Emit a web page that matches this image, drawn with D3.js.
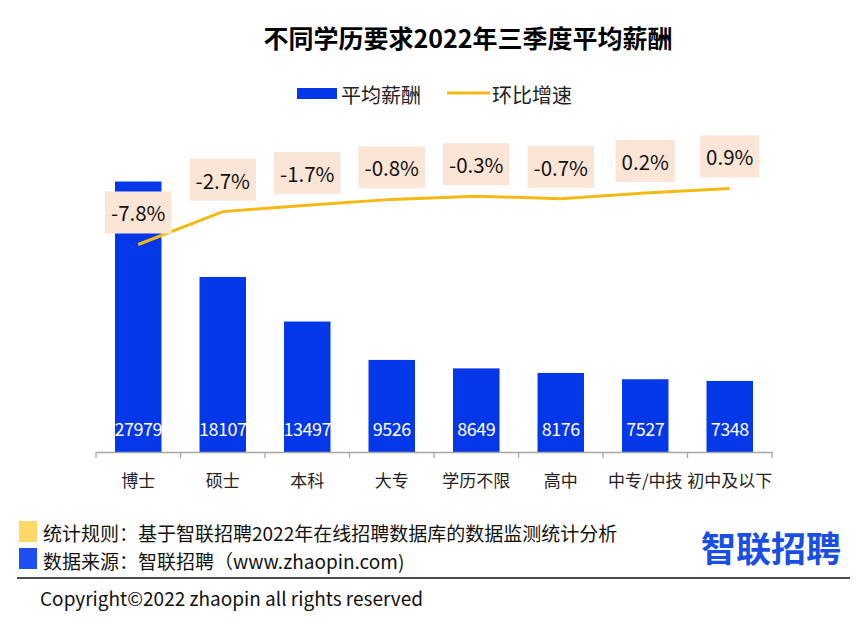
<!DOCTYPE html>
<html>
<head>
<meta charset="utf-8">
<script src="https://cdn.jsdelivr.net/npm/d3@7"></script>
<style>
  body { margin: 0; background: #fff; }
  svg { display: block; font-family: "Noto Sans CJK SC", "Noto Sans", sans-serif; }
</style>
</head>
<body>
<svg id="chart" width="866" height="622"></svg>
<script>
const categories = ["博士", "硕士", "本科", "大专", "学历不限", "高中", "中专/中技", "初中及以下"];
const salary = [27979, 18107, 13497, 9526, 8649, 8176, 7527, 7348];
const growth = [-7.8, -2.7, -1.7, -0.8, -0.3, -0.7, 0.2, 0.9];
const growthLabels = ["-7.8%", "-2.7%", "-1.7%", "-0.8%", "-0.3%", "-0.7%", "0.2%", "0.9%"];
const titleText = "不同学历要求2022年三季度平均薪酬";
const legendLabels = ["平均薪酬", "环比增速"];
const footerRule = "统计规则：基于智联招聘2022年在线招聘数据库的数据监测统计分析";
const footerSource = "数据来源：智联招聘（www.zhaopin.com)";
const copyright = "Copyright©2022 zhaopin all rights reserved";
const logoText = "智联招聘";

const BLUE = "#0437E8", YELLOW = "#F5B915", PEACH = "#FBE5D6";
const svg = d3.select("#chart");

const x = d3.scaleBand().domain(categories).range([96, 772]).paddingInner(0.45).paddingOuter(0.225);
const y = d3.scaleLinear().domain([0, 30000]).range([452, 162]);
const y2 = d3.scaleLinear().domain([-40, 5]).range([452, 162]);

// title
svg.append("text").attr("x", 468).attr("y", 37).attr("text-anchor", "middle")
  .attr("dominant-baseline", "central").attr("font-size", 25).attr("font-weight", "bold")
  .attr("fill", "#000").text(titleText);

// legend
svg.append("rect").attr("x", 297).attr("y", 88).attr("width", 40).attr("height", 11).attr("fill", BLUE);
svg.append("text").attr("x", 341).attr("y", 94).attr("dominant-baseline", "central")
  .attr("font-size", 20).attr("fill", "#222").text(legendLabels[0]);
svg.append("line").attr("x1", 447).attr("x2", 490).attr("y1", 93).attr("y2", 93)
  .attr("stroke", YELLOW).attr("stroke-width", 3);
svg.append("text").attr("x", 492).attr("y", 94).attr("dominant-baseline", "central")
  .attr("font-size", 20).attr("fill", "#222").text(legendLabels[1]);

// bars
svg.selectAll("rect.bar").data(categories).enter().append("rect").attr("class", "bar")
  .attr("x", d => x(d)).attr("width", x.bandwidth())
  .attr("y", (d, i) => y(salary[i])).attr("height", (d, i) => y(0) - y(salary[i]))
  .attr("fill", BLUE);

svg.selectAll("text.val").data(categories).enter().append("text").attr("class", "val")
  .attr("x", d => x(d) + x.bandwidth() / 2).attr("y", 428)
  .attr("text-anchor", "middle").attr("dominant-baseline", "central")
  .attr("font-size", 18).attr("fill", "#fff").attr("letter-spacing", -0.5)
  .text((d, i) => salary[i]);

// axis
const axis = svg.append("g").attr("transform", `translate(0,${y(0)})`)
  .call(d3.axisBottom(x).tickSize(0).tickPadding(0).tickFormat(""));
axis.select(".domain").attr("stroke", "#a6a6a6").attr("stroke-width", 1.3);
const bounds = [x.range()[0]].concat(categories.map(d => x(d) - x.step() * x.paddingInner() / 2 + x.step()));
svg.selectAll("line.tk").data(bounds).enter().append("line").attr("class", "tk")
  .attr("x1", d => d).attr("x2", d => d).attr("y1", y(0)).attr("y2", y(0) + 6)
  .attr("stroke", "#a6a6a6").attr("stroke-width", 1.3);
svg.selectAll("text.cat").data(categories).enter().append("text").attr("class", "cat")
  .attr("x", d => x(d) + x.bandwidth() / 2).attr("y", 479)
  .attr("text-anchor", "middle").attr("dominant-baseline", "central")
  .attr("font-size", 17).attr("fill", "#222").text(d => d);

// line
const cx = d => x(d) + x.bandwidth() / 2;
svg.append("path").datum(categories)
  .attr("d", d3.line().x(d => cx(d)).y((d, i) => y2(growth[i])))
  .attr("fill", "none").attr("stroke", YELLOW).attr("stroke-width", 3);

// labels with boxes
const lg = svg.selectAll("g.lab").data(categories).enter().append("g").attr("class", "lab")
  .attr("transform", (d, i) => `translate(${cx(d)},${y2(growth[i]) - 32})`);
lg.append("rect").attr("fill", PEACH).attr("y", -21).attr("height", 42);
lg.append("text").attr("text-anchor", "middle").attr("dominant-baseline", "central")
  .attr("font-size", 20.5).attr("fill", "#111").text((d, i) => growthLabels[i]);
lg.each(function() {
  const g = d3.select(this);
  const w = g.select("text").node().getComputedTextLength() + 12;
  g.select("rect").attr("x", -w / 2).attr("width", w);
});

// footer
svg.append("rect").attr("x", 19).attr("y", 521).attr("width", 18).attr("height", 21).attr("fill", "#FFD966");
svg.append("rect").attr("x", 19).attr("y", 548).attr("width", 18).attr("height", 21).attr("fill", "#1F4FF0");
svg.append("text").attr("x", 43).attr("y", 532).attr("dominant-baseline", "central")
  .attr("font-size", 19).attr("fill", "#111").text(footerRule);
svg.append("text").attr("x", 43).attr("y", 560).attr("dominant-baseline", "central")
  .attr("font-size", 19).attr("fill", "#111").text(footerSource);
svg.append("line").attr("x1", 17).attr("x2", 850).attr("y1", 578).attr("y2", 578)
  .attr("stroke", "#111").attr("stroke-width", 1.3);
svg.append("text").attr("x", 40).attr("y", 597).attr("dominant-baseline", "central")
  .attr("font-size", 19).attr("fill", "#111").text(copyright);
svg.append("text").attr("x", 771).attr("y", 546).attr("text-anchor", "middle").attr("dominant-baseline", "central")
  .attr("font-size", 35).attr("font-weight", "bold").attr("fill", "#1A4FE6").text(logoText);
</script>
</body>
</html>
